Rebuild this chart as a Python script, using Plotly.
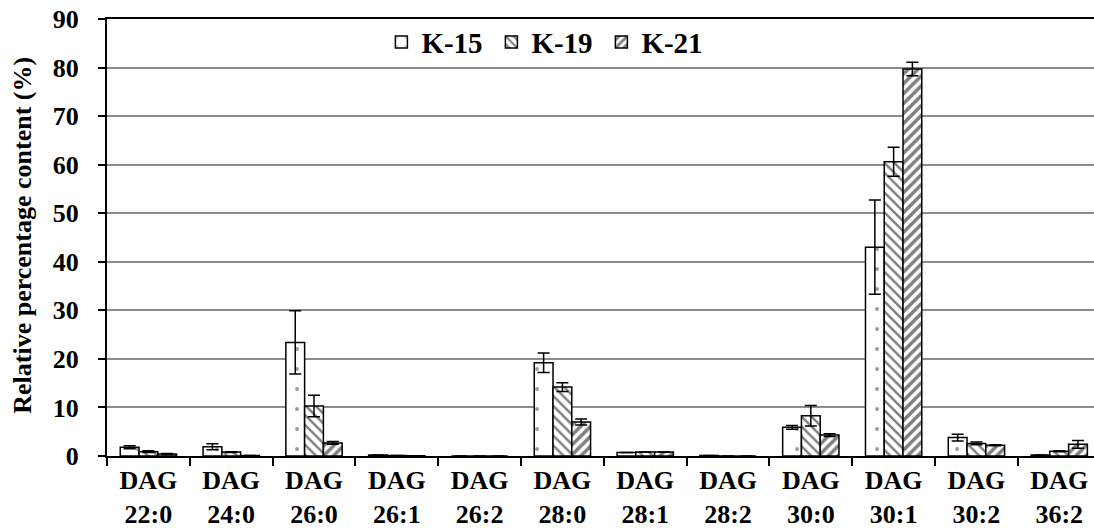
import plotly.graph_objects as go

# Diacylglycerol species on the x axis
categories = ["DAG<br>22:0", "DAG<br>24:0", "DAG<br>26:0", "DAG<br>26:1",
              "DAG<br>26:2", "DAG<br>28:0", "DAG<br>28:1", "DAG<br>28:2",
              "DAG<br>30:0", "DAG<br>30:1", "DAG<br>30:2", "DAG<br>36:2"]

# Relative percentage content (%) and standard deviations per line
k15 = [1.8, 1.9, 23.4, 0.2, 0.0, 19.2, 0.7, 0.1, 5.9, 43.0, 3.8, 0.2]
k15_err = [0.3, 0.6, 6.5, None, None, 2.0, None, None, 0.4, 9.7, 0.7, None]
k19 = [0.9, 0.8, 10.3, 0.1, 0.0, 14.2, 0.8, 0.0, 8.3, 60.6, 2.6, 1.0]
k19_err = [0.2, 0.1, 2.2, None, None, 0.9, None, None, 2.1, 3.0, 0.3, 0.1]
k21 = [0.4, 0.1, 2.7, 0.05, 0.0, 7.0, 0.8, 0.0, 4.3, 79.7, 2.2, 2.4]
k21_err = [0.1, None, 0.3, None, None, 0.6, None, None, 0.3, 1.4, 0.1, 0.8]

y_ticks = [0, 10, 20, 30, 40, 50, 60, 70, 80, 90]

FONT = "Liberation Serif"

series = [
    ("K-15", k15, k15_err, dict(shape=".", size=20, solidity=0.03,
                                fgcolor="#333333", bgcolor="white")),
    ("K-19", k19, k19_err, dict(shape="\\", size=7, solidity=0.35,
                                fgcolor="black", bgcolor="white")),
    ("K-21", k21, k21_err, dict(shape="/", size=7, solidity=0.5,
                                fgcolor="black", bgcolor="white")),
]

fig = go.Figure()
for name, vals, errs, pattern in series:
    fig.add_trace(go.Bar(
        name=name,
        x=categories,
        y=vals,
        marker=dict(color="white", line=dict(color="black", width=1.5),
                    pattern=pattern),
        error_y=dict(type="data", array=errs, visible=True,
                     color="black", thickness=1.5, width=6),
    ))

fig.update_layout(
    width=1094, height=528,
    margin=dict(l=107, r=0, t=19, b=72, autoexpand=False),
    paper_bgcolor="white", plot_bgcolor="white",
    barmode="group", bargap=0.32, bargroupgap=0,
    font=dict(family=FONT, size=26, color="black", weight="bold"),
    showlegend=True,
    legend=dict(orientation="h", xref="paper", yref="paper",
                x=0.278, xanchor="left", y=0.947, yanchor="middle",
                bgcolor="rgba(0,0,0,0)", itemwidth=30,
                entrywidth=65, entrywidthmode="pixels",
                font=dict(family=FONT, size=29, color="black", weight="bold"),
                traceorder="normal"),
    xaxis=dict(range=[-0.5, 11.42], showline=True, linecolor="black",
               linewidth=2, mirror=True, ticks="outside", tickson="boundaries",
               ticklen=8, tickwidth=2, tickcolor="black", showgrid=False,
               tickfont=dict(family=FONT, size=26, weight="bold")),
    yaxis=dict(range=[0, 90], tickvals=y_ticks, showline=True,
               linecolor="black", linewidth=2, ticks="outside", ticklen=7,
               tickwidth=2, tickcolor="black", showgrid=True,
               gridcolor="#8c8c8c", gridwidth=1.5, zeroline=False,
               ticklabelstandoff=14,
               tickfont=dict(family=FONT, size=26, weight="bold")),
)

# Rotated y-axis title placed left of the tick labels
fig.add_annotation(
    text="Relative percentage content (%)", textangle=-90,
    xref="paper", yref="paper", x=(23 - 107) / 987, y=0.504,
    xanchor="center", yanchor="middle", showarrow=False,
    font=dict(family=FONT, size=26, color="black", weight="bold"),
)

fig.write_html("out.html")
